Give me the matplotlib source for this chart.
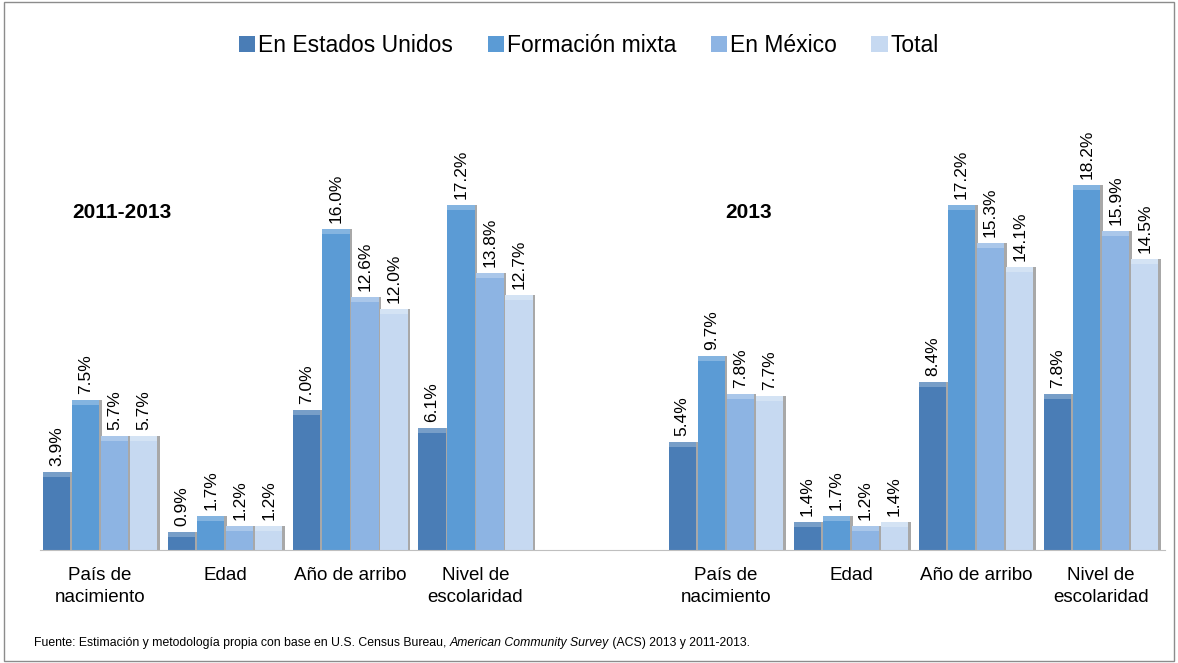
import matplotlib.pyplot as plt
import matplotlib.colors as mcolors
import numpy as np

# data
series = ['En Estados Unidos', 'Formación mixta', 'En México', 'Total']
categories = ['País de\nnacimiento', 'Edad', 'Año de arribo', 'Nivel de\nescolaridad']
periods = ['2011-2013', '2013']
vals_2011_2013 = [
    [3.9, 0.9, 7.0, 6.1],
    [7.5, 1.7, 16.0, 17.2],
    [5.7, 1.2, 12.6, 13.8],
    [5.7, 1.2, 12.0, 12.7],
]
vals_2013 = [
    [5.4, 1.4, 8.4, 7.8],
    [9.7, 1.7, 17.2, 18.2],
    [7.8, 1.2, 15.3, 15.9],
    [7.7, 1.4, 14.1, 14.5],
]
colors = ['#4a7db6', '#5b9bd5', '#8db4e3', '#c6d9f1']

FONT = 'Liberation Sans'


def lighten(c, f):
    r = np.array(mcolors.to_rgb(c))
    return tuple(r + (1 - r) * f)


fig = plt.figure(figsize=(11.78, 6.63), dpi=100)
ax = fig.add_axes([0.034, 0.17, 0.955, 0.66])

x = np.array([0, 1, 2, 3, 5, 6, 7, 8], dtype=float)
w = 0.232
for i, name in enumerate(series):
    v = vals_2011_2013[i] + vals_2013[i]
    pos = x + (i - 1.5) * w
    # shadow + top highlight for a slight 3D look
    ax.bar(pos + 0.02, v, w * 0.94, color='#a8a8a8', zorder=1)
    bars = ax.bar(pos, v, w * 0.94, color=colors[i], label=name, zorder=2,
                  edgecolor='none')
    ax.bar(pos, [0.25] * len(v), w * 0.94, bottom=np.array(v) - 0.25,
           color=lighten(colors[i], 0.25), zorder=3, edgecolor='none')
    for b, val in zip(bars, v):
        ax.text(b.get_x() + b.get_width() / 2, val + 0.3, f'{val:.1f}%',
                rotation=90, ha='center', va='bottom', fontsize=12.5,
                family=FONT)

ax.set_xlim(-0.48, 8.51)
ax.set_ylim(0, 21.8)
ax.set_yticks([])
ax.set_xticks(x)
ax.set_xticklabels(categories * 2, fontsize=13.5, family=FONT, linespacing=1.4)
ax.tick_params(axis='x', length=0, pad=12)
for s in ['top', 'right', 'left']:
    ax.spines[s].set_visible(False)
ax.spines['bottom'].set_color('#bfbfbf')

ax.text(0.17, 16.85, periods[0], fontsize=15, fontweight='bold', ha='center',
        va='center', family=FONT)
ax.text(5.18, 16.85, periods[1], fontsize=15, fontweight='bold', ha='center',
        va='center', family=FONT)

fig.legend(loc='center', bbox_to_anchor=(0.5, 0.932), ncol=4, frameon=False,
           handlelength=0.7, handleheight=0.7, handletextpad=0.15,
           columnspacing=1.5, prop={'family': FONT, 'size': 16.5})

# footnote with italic part
fig.canvas.draw()
r = fig.canvas.get_renderer()
parts = [('Fuente: Estimación y metodología propia con base en U.S. Census Bureau, ', 'normal'),
         ('American Community Survey', 'italic'),
         (' (ACS) 2013 y 2011-2013.', 'normal')]
xp = 0.029
for txt, st in parts:
    t = fig.text(xp, 0.026, txt, fontsize=8.8, style=st, family=FONT)
    bb = t.get_window_extent(renderer=r)
    xp += bb.width / fig.bbox.width

fig.patches.append(plt.Rectangle((0.003, 0.003), 0.994, 0.994, transform=fig.transFigure,
                                 fill=False, edgecolor='#8c8c8c', linewidth=1))

fig.savefig('out.png', dpi=100)
